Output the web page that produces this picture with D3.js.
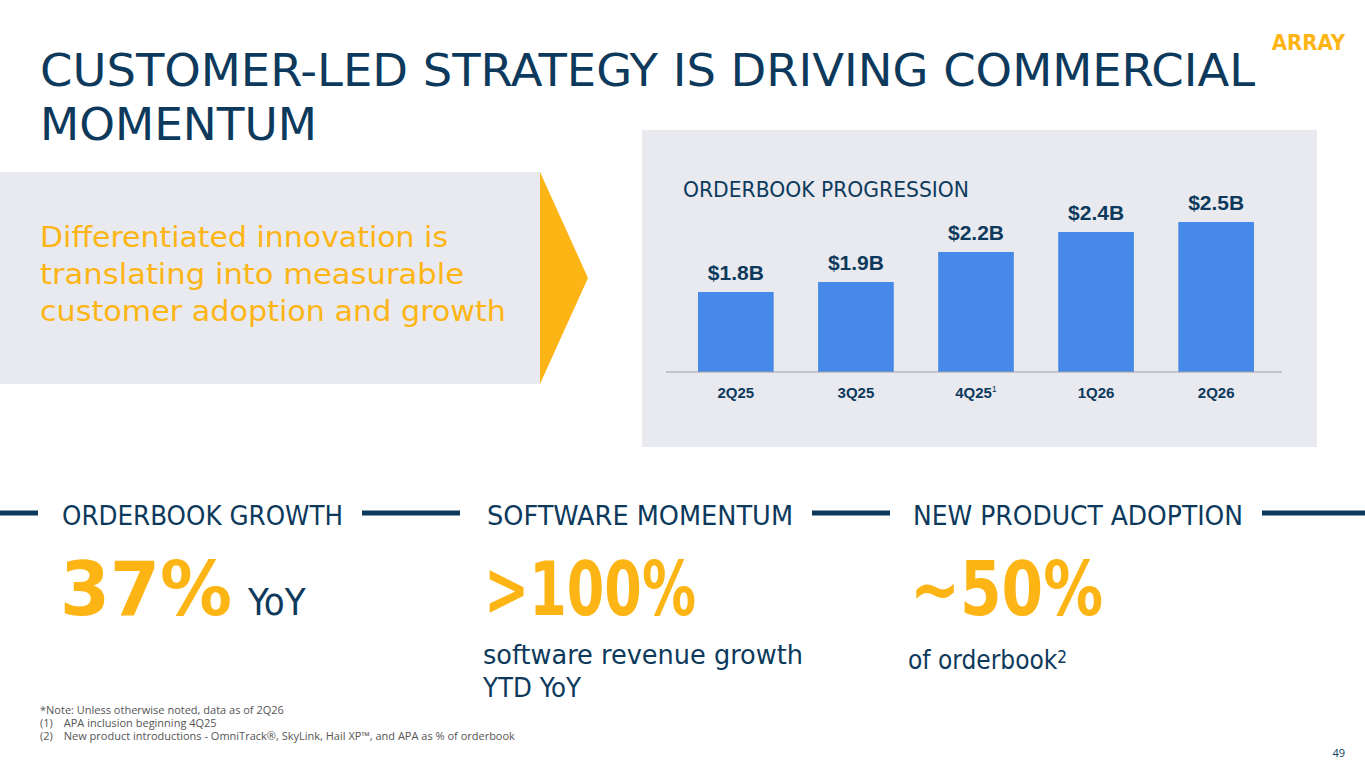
<!DOCTYPE html>
<html><head><meta charset="utf-8">
<script src="https://cdn.jsdelivr.net/npm/d3@7"></script>
<style>body{margin:0;background:#fff}svg{display:block}</style>
</head><body><svg id="slide" width="1365" height="768"></svg>
<script>
const quarters = ["2Q25", "3Q25", "4Q25", "1Q26", "2Q26"];
const orderbook = [1.8, 1.9, 2.2, 2.4, 2.5];
const valueLabels = ["$1.8B", "$1.9B", "$2.2B", "$2.4B", "$2.5B"];
const footnotes = ["*Note: Unless otherwise noted, data as of 2Q26",
  "(1)\u2003APA inclusion beginning 4Q25",
  "(2)\u2003New product introductions - OmniTrack\u00ae, SkyLink, Hail XP\u2122, and APA  as % of orderbook"];

const navy = "#0d3a5c", gold = "#fdb515", blue = "#4689e8";
const svg = d3.select("#slide");
const cond = "'DejaVu Sans Condensed','DejaVu Sans',sans-serif";

// title
svg.append("text").attr("x", 40).attr("y", 86).attr("fill", navy).style("font-family", cond)
  .style("font-size", "44px").attr("textLength", 1215).attr("lengthAdjust", "spacingAndGlyphs")
  .text("CUSTOMER-LED STRATEGY IS DRIVING COMMERCIAL");
svg.append("text").attr("x", 40).attr("y", 140).attr("fill", navy).style("font-family", cond)
  .style("font-size", "44px").attr("textLength", 277).attr("lengthAdjust", "spacingAndGlyphs").text("MOMENTUM");
svg.append("text").attr("x", 1345).attr("y", 50).attr("text-anchor", "end").attr("fill", gold)
  .style("font-family", cond).style("font-size", "22px").style("font-weight", "bold").text("ARRAY");

// left callout
svg.append("rect").attr("x", 0).attr("y", 172).attr("width", 541).attr("height", 212).attr("fill", "#e8eaef");
svg.append("polygon").attr("points", "540,172 588,278 540,384").attr("fill", gold);
["Differentiated innovation is", "translating into measurable", "customer adoption and growth"].forEach((t, i) => {
  svg.append("text").attr("x", 40).attr("y", 247 + i * 37).attr("fill", gold).style("font-family", cond)
    .style("font-size", "29px").attr("textLength", i == 2 ? 466 : (i == 0 ? 408 : 424))
    .attr("lengthAdjust", "spacingAndGlyphs").text(t);
});

// chart panel
svg.append("rect").attr("x", 642).attr("y", 130).attr("width", 675).attr("height", 317).attr("fill", "#e9eaef");
svg.append("text").attr("x", 683).attr("y", 197).attr("fill", navy).style("font-family", cond)
  .style("font-size", "21px").attr("textLength", 286).attr("lengthAdjust", "spacingAndGlyphs").text("ORDERBOOK PROGRESSION");

const x = d3.scaleBand().domain(quarters).range([668, 1284]).paddingInner(0.37).paddingOuter(0.25);
const y = d3.scaleLinear().domain([1.0, 2.5]).range([372, 222]);

svg.selectAll(".bar").data(orderbook).join("rect").attr("class", "bar")
  .attr("x", (d, i) => x(quarters[i])).attr("width", x.bandwidth())
  .attr("y", d => y(d)).attr("height", d => y(1.0) - y(d)).attr("fill", blue);
svg.selectAll(".val").data(orderbook).join("text").attr("class", "val")
  .attr("x", (d, i) => x(quarters[i]) + x.bandwidth() / 2).attr("y", d => y(d) - 12)
  .attr("text-anchor", "middle").attr("fill", navy).style("font-family", "'Liberation Sans',Arial,sans-serif")
  .style("font-size", "21px").style("font-weight", "bold").text((d, i) => valueLabels[i]);

const axis = svg.append("g").attr("transform", "translate(0,372)")
  .call(d3.axisBottom(x).tickSize(0).tickPadding(15).tickFormat(d => d));
axis.select(".domain").attr("stroke", "#9aa0a8").attr("d", "M666,0H1282");
axis.selectAll("text").attr("fill", navy).style("font-family", "'Liberation Sans',Arial,sans-serif")
  .style("font-size", "15px").style("font-weight", "bold");
axis.selectAll(".tick").filter(d => d === "4Q25").select("text").append("tspan")
  .attr("dy", "-6").style("font-size", "9px").style("font-weight", "normal").text("1");

// section headers
const sections = [{t: "ORDERBOOK GROWTH", x: 62, w: 281}, {t: "SOFTWARE MOMENTUM", x: 487, w: 306}, {t: "NEW PRODUCT ADOPTION", x: 913, w: 330}];
[[0, 38], [362, 460], [812, 890], [1262, 1365]].forEach(s => {
  svg.append("line").attr("x1", s[0]).attr("x2", s[1]).attr("y1", 513).attr("y2", 513)
    .attr("stroke", navy).attr("stroke-width", 5);
});
sections.forEach(s => {
  svg.append("text").attr("x", s.x).attr("y", 525).attr("fill", navy).style("font-family", cond)
    .style("font-size", "26px").attr("textLength", s.w).attr("lengthAdjust", "spacingAndGlyphs").text(s.t);
});

function big(xp, t, w) {
  svg.append("text").attr("x", xp).attr("y", 615).attr("fill", gold).style("font-family", cond)
    .style("font-size", "74px").style("font-weight", "bold").attr("textLength", w)
    .attr("lengthAdjust", "spacingAndGlyphs").text(t);
}
big(60, "37%", 172); big(484, ">100%", 212); big(910, "~50%", 193);
svg.append("text").attr("x", 248).attr("y", 615).attr("fill", navy).style("font-family", cond)
  .style("font-size", "38px").text("YoY");
[["software revenue growth", 483, 664, 320], ["YTD YoY", 483, 697, 98]].forEach(a => {
  svg.append("text").attr("x", a[1]).attr("y", a[2]).attr("fill", navy).style("font-family", cond)
    .style("font-size", "26px").attr("textLength", a[3]).attr("lengthAdjust", "spacingAndGlyphs").text(a[0]);
});
const ob = svg.append("text").attr("x", 908).attr("y", 669).attr("fill", navy).style("font-family", cond)
  .style("font-size", "26px").text("of orderbook");
ob.append("tspan").attr("dy", -6).style("font-size", "17px").text("2");

footnotes.forEach((f, i) => {
  svg.append("text").attr("x", 40).attr("y", 714 + i * 13).attr("fill", "#555").style("font-family", "'Open Sans',sans-serif")
    .style("font-size", "11px").text(f);
});
svg.append("text").attr("x", 1345).attr("y", 757).attr("text-anchor", "end").attr("fill", navy)
  .style("font-family", "'Open Sans',sans-serif").style("font-size", "11px").text("49");
</script></body></html>
